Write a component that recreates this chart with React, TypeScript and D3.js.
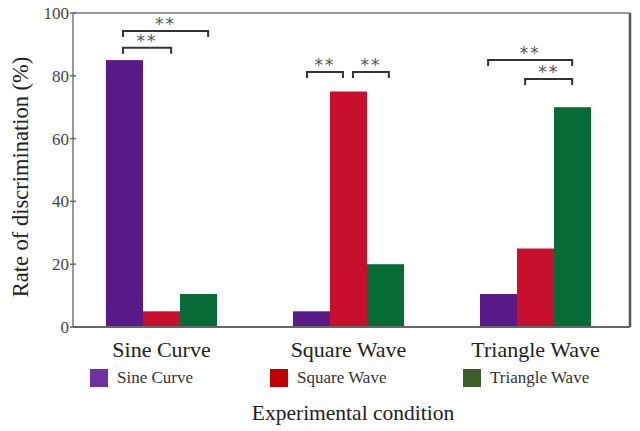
import React, { useRef, useEffect } from "react";
import * as d3 from "d3";

const categories = ["Sine Curve", "Square Wave", "Triangle Wave"];
const seriesNames = ["Sine Curve", "Square Wave", "Triangle Wave"];
const sineValues = [85, 5, 10.5];
const squareValues = [5, 75, 25];
const triangleValues = [10.5, 20, 70];
const barColors = ["#5b1a89", "#c8102e", "#076b37"];
const legendColors = ["#7030a0", "#c00000", "#3b5e2b"];
const yTicks = [0, 20, 40, 60, 80, 100];

// significance brackets: group, start/end in bar units inside the group, height in %
const bracketGroup = [0, 0, 1, 1, 2, 2];
const bracketFrom = [0.46, 0.46, 0.38, 1.62, 0.22, 1.22];
const bracketTo = [1.76, 2.76, 1.35, 2.59, 2.49, 2.49];
const bracketLevel = [88.9, 94.3, 81.2, 81.2, 85, 79];

function App() {
  const svgRef = useRef<SVGSVGElement>(null);

  useEffect(() => {
    const svg = d3.select(svgRef.current);
    svg.selectAll("*").remove();

    const width = 640;
    const height = 431;
    const left = 73;
    const right = 630;
    const top = 13;
    const bottom = 327;
    const serif = "'Liberation Serif', 'Times New Roman', serif";

    const y = d3.scaleLinear().domain([0, 100]).range([bottom, top]);
    const x0 = d3
      .scaleBand()
      .domain(categories)
      .range([68, 629])
      .paddingInner(0.406)
      .paddingOuter(0.203);
    const x1 = d3
      .scaleBand()
      .domain(seriesNames)
      .range([0, x0.bandwidth()]);
    const unit = x1.bandwidth();

    const values = [sineValues, squareValues, triangleValues];
    const rows: { cat: string; ser: string; v: number; i: number }[] = [];
    seriesNames.forEach((s, i) =>
      categories.forEach((c, j) => rows.push({ cat: c, ser: s, v: values[i][j], i }))
    );

    svg
      .append("rect")
      .attr("width", width)
      .attr("height", height)
      .attr("fill", "#fff");

    // bars
    svg
      .selectAll(".bar")
      .data(rows)
      .enter()
      .append("rect")
      .attr("class", "bar")
      .attr("x", (d) => (x0(d.cat) as number) + (x1(d.ser) as number))
      .attr("y", (d) => y(d.v))
      .attr("width", unit)
      .attr("height", (d) => y(0) - y(d.v))
      .attr("fill", (d) => barColors[d.i]);

    // frame
    svg
      .append("line")
      .attr("x1", left)
      .attr("x2", right)
      .attr("y1", top)
      .attr("y2", top)
      .attr("stroke", "#777")
      .attr("stroke-width", 1.5);
    svg
      .append("line")
      .attr("x1", right)
      .attr("x2", right)
      .attr("y1", top)
      .attr("y2", bottom)
      .attr("stroke", "#555")
      .attr("stroke-width", 2.5);
    svg
      .append("line")
      .attr("x1", left)
      .attr("x2", right)
      .attr("y1", bottom)
      .attr("y2", bottom)
      .attr("stroke", "#666")
      .attr("stroke-width", 2);

    // y axis
    const yAxis = svg.append("g").attr("transform", `translate(${left},0)`);
    yAxis
      .append("line")
      .attr("y1", top)
      .attr("y2", bottom)
      .attr("stroke", "#777")
      .attr("stroke-width", 1.5);
    yAxis
      .selectAll(".tick")
      .data(yTicks)
      .enter()
      .append("line")
      .attr("x1", -3)
      .attr("x2", 3)
      .attr("y1", (d) => y(d))
      .attr("y2", (d) => y(d))
      .attr("stroke", "#666")
      .attr("stroke-width", 1.5);
    yAxis
      .selectAll(".tick-label")
      .data(yTicks)
      .enter()
      .append("text")
      .attr("x", -4)
      .attr("y", (d) => y(d))
      .attr("dy", "0.35em")
      .attr("text-anchor", "end")
      .attr("font-family", serif)
      .attr("font-size", 17)
      .attr("fill", "#444")
      .text((d) => d);

    svg
      .append("text")
      .attr("transform", `translate(28,177) rotate(-90)`)
      .attr("text-anchor", "middle")
      .attr("font-family", serif)
      .attr("font-size", 22.5)
      .attr("fill", "#222")
      .text("Rate of discrimination (%)");

    // category labels
    svg
      .selectAll(".cat-label")
      .data(categories)
      .enter()
      .append("text")
      .attr("x", (d) => (x0(d) as number) + x0.bandwidth() / 2)
      .attr("y", 357)
      .attr("text-anchor", "middle")
      .attr("font-family", serif)
      .attr("font-size", 22)
      .attr("fill", "#222")
      .text((d) => d);

    // brackets
    bracketGroup.forEach((g, k) => {
      const gx = x0(categories[g]) as number;
      const xa = gx + bracketFrom[k] * unit;
      const xb = gx + bracketTo[k] * unit;
      const yy = y(bracketLevel[k]);
      svg
        .append("path")
        .attr("d", `M${xa},${yy + 6}V${yy}H${xb}V${yy + 6}`)
        .attr("fill", "none")
        .attr("stroke", "#333")
        .attr("stroke-width", 2);
      svg
        .append("text")
        .attr("x", (xa + xb) / 2)
        .attr("y", yy - 1)
        .attr("text-anchor", "middle")
        .attr("font-family", "'DejaVu Sans', sans-serif")
        .attr("font-size", 17)
        .attr("letter-spacing", 2)
        .attr("fill", "#555")
        .text("**");
    });

    // legend
    const legendX = [90, 270, 463];
    const legend = svg
      .selectAll(".legend")
      .data(seriesNames)
      .enter()
      .append("g")
      .attr("transform", (d, i) => `translate(${legendX[i]},369)`);
    legend
      .append("rect")
      .attr("width", 18)
      .attr("height", 18)
      .attr("fill", (d, i) => legendColors[i]);
    legend
      .append("text")
      .attr("x", 27)
      .attr("y", 14)
      .attr("font-family", serif)
      .attr("font-size", 17)
      .attr("fill", "#333")
      .text((d) => d);

    svg
      .append("text")
      .attr("x", 353)
      .attr("y", 420)
      .attr("text-anchor", "middle")
      .attr("font-family", serif)
      .attr("font-size", 21.5)
      .attr("fill", "#222")
      .text("Experimental condition");
  }, []);

  return (
    <svg
      ref={svgRef}
      width={640}
      height={431}
      style={{ position: "absolute", left: 0, top: 0 }}
    ></svg>
  );
}

export default App;
